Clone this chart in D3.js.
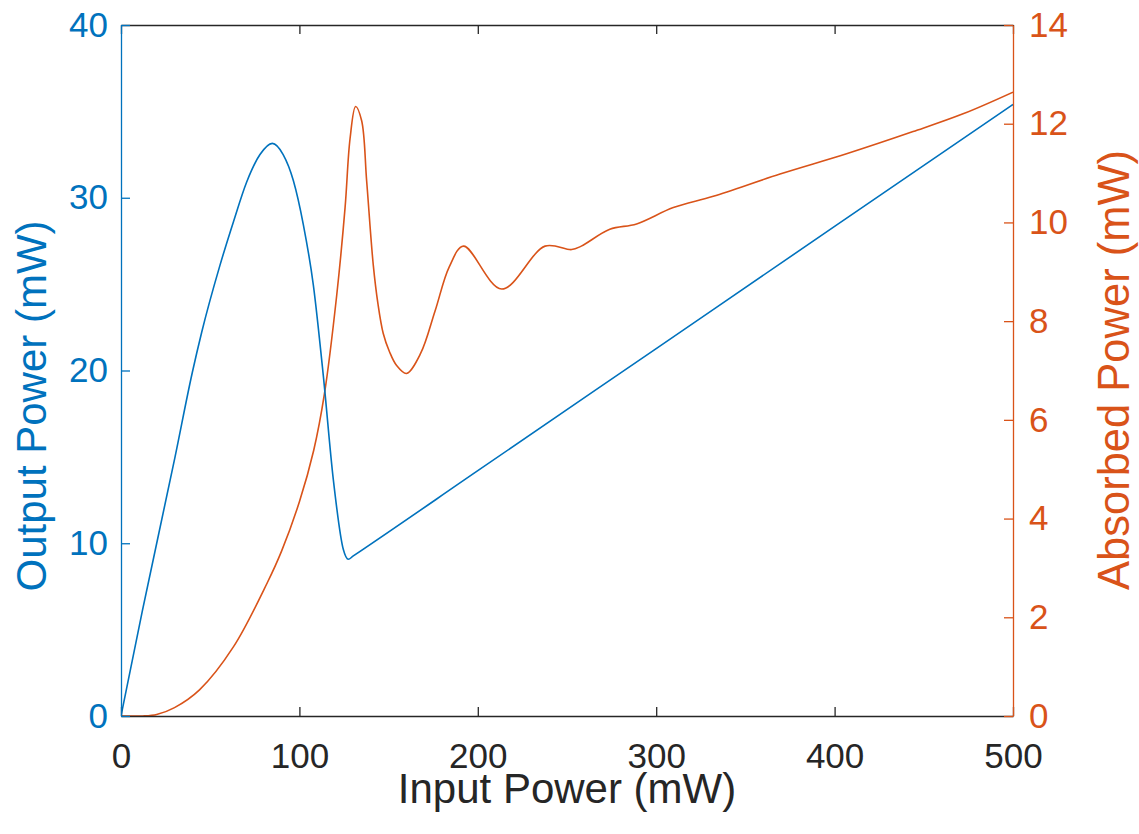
<!DOCTYPE html>
<html>
<head>
<meta charset="utf-8">
<script src="https://cdn.jsdelivr.net/npm/d3@7"></script>
<style>
  html, body { margin: 0; padding: 0; background: #fff; }
  svg text { font-family: "Liberation Sans", Arial, Helvetica, sans-serif; }
</style>
</head>
<body>
<div id="chart"></div>
<script>
// Output power (left axis) vs input power
const outInput = [0, 12, 30.3, 40, 45.2, 55.5, 63, 70.4, 77.9, 84.8, 90.9, 96.6, 102.2, 107.8, 113.4, 119, 124.6, 127.4, 130, 200, 300, 400, 500];
const outPower = [0, 6.1, 15.0, 19.9, 22.2, 26.1, 28.6, 30.9, 32.5, 33.15, 32.5, 31.0, 28.45, 24.96, 19.7, 13.7, 9.65, 9.07, 9.25, 14.2, 21.27, 28.34, 35.4];

// Absorbed power (right axis) vs input power
const absInput = [0, 12, 20, 30, 44, 63, 82, 90, 100, 108, 114, 120.9, 125.6, 128.4, 131.5, 134.9, 137.7, 141.4, 144, 147, 150.5, 154.5, 160, 168, 176, 184, 192, 213.4, 237.7, 252.6, 258, 274, 289, 309.6, 332, 369.4, 406.7, 444, 472, 500];
const absPower = [0, 0, 0.03, 0.17, 0.53, 1.4, 2.7, 3.34, 4.34, 5.38, 6.52, 8.52, 10.3, 11.7, 12.35, 12.06, 10.84, 9.14, 8.36, 7.75, 7.38, 7.1, 6.94, 7.35, 8.2, 9.1, 9.52, 8.65, 9.52, 9.45, 9.52, 9.86, 9.97, 10.3, 10.53, 10.98, 11.39, 11.84, 12.2, 12.64];

const xTicks = [0, 100, 200, 300, 400, 500];
const leftTicks = [0, 10, 20, 30, 40];
const rightTicks = [0, 2, 4, 6, 8, 10, 12, 14];

const BLUE = '#0072BD';
const ORANGE = '#D95319';
const DARK = '#262626';

const W = 1139, H = 834;
const M = { top: 25, right: 126, bottom: 118, left: 121 };
const innerW = W - M.left - M.right;
const innerH = H - M.top - M.bottom;
const TICK_FONT = 35;
const LABEL_FONT = 42;

const svg = d3.select('#chart').append('svg')
  .attr('width', W)
  .attr('height', H);

const g = svg.append('g').attr('transform', `translate(${M.left},${M.top})`);

const x = d3.scaleLinear().domain([0, 500]).range([0, innerW]);
const yL = d3.scaleLinear().domain([0, 40]).range([innerH, 0]);
const yR = d3.scaleLinear().domain([0, 14]).range([innerH, 0]);

// clip lines to plot area
svg.append('defs').append('clipPath').attr('id', 'plot-clip')
  .append('rect').attr('x', 0).attr('y', 0).attr('width', innerW).attr('height', innerH);

const plot = g.append('g').attr('clip-path', 'url(#plot-clip)');

const outLine = d3.line()
  .x((d, i) => x(outInput[i]))
  .y(d => yL(d))
  .curve(d3.curveMonotoneX);

const absLine = d3.line()
  .x((d, i) => x(absInput[i]))
  .y(d => yR(d))
  .curve(d3.curveCatmullRom.alpha(0.5));

plot.append('path')
  .datum(absPower)
  .attr('d', absLine)
  .attr('fill', 'none')
  .attr('stroke', ORANGE)
  .attr('stroke-width', 1.6);

plot.append('path')
  .datum(outPower)
  .attr('d', outLine)
  .attr('fill', 'none')
  .attr('stroke', BLUE)
  .attr('stroke-width', 1.6);

// style an axis group: colour, inward ticks, big labels
function styleAxis(sel, color) {
  sel.select('.domain').attr('stroke', color).attr('stroke-width', 1.3);
  sel.selectAll('.tick line').attr('stroke', color).attr('stroke-width', 1.3);
  sel.selectAll('.tick text')
    .attr('fill', color)
    .attr('font-size', TICK_FONT);
}

// bottom axis
const xAxisG = g.append('g').attr('transform', `translate(0,${innerH})`)
  .call(d3.axisBottom(x).tickValues(xTicks).tickSizeInner(-9).tickSizeOuter(0).tickPadding(27));
styleAxis(xAxisG, DARK);
xAxisG.selectAll('.tick text').attr('dy', '0.71em');

// top axis (box), no labels
const topAxisG = g.append('g')
  .call(d3.axisTop(x).tickValues(xTicks).tickSizeInner(-9).tickSizeOuter(0).tickFormat(''));
styleAxis(topAxisG, DARK);

// left axis
const leftG = g.append('g')
  .call(d3.axisLeft(yL).tickValues(leftTicks).tickSizeInner(-9).tickSizeOuter(0).tickPadding(13));
styleAxis(leftG, BLUE);

// right axis
const rightG = g.append('g').attr('transform', `translate(${innerW},0)`)
  .call(d3.axisRight(yR).tickValues(rightTicks).tickSizeInner(-9).tickSizeOuter(0).tickPadding(16));
styleAxis(rightG, ORANGE);

// axis labels
svg.append('text')
  .attr('x', M.left + innerW / 2)
  .attr('y', 803)
  .attr('text-anchor', 'middle')
  .attr('font-size', LABEL_FONT)
  .attr('fill', DARK)
  .text('Input Power (mW)');

svg.append('text')
  .attr('transform', 'translate(46,406) rotate(-90)')
  .attr('text-anchor', 'middle')
  .attr('font-size', LABEL_FONT)
  .attr('fill', BLUE)
  .text('Output Power (mW)');

svg.append('text')
  .attr('transform', 'translate(1129,370) rotate(-90)')
  .attr('text-anchor', 'middle')
  .attr('font-size', 43.5)
  .attr('fill', ORANGE)
  .text('Absorbed Power (mW)');
</script>
</body>
</html>
